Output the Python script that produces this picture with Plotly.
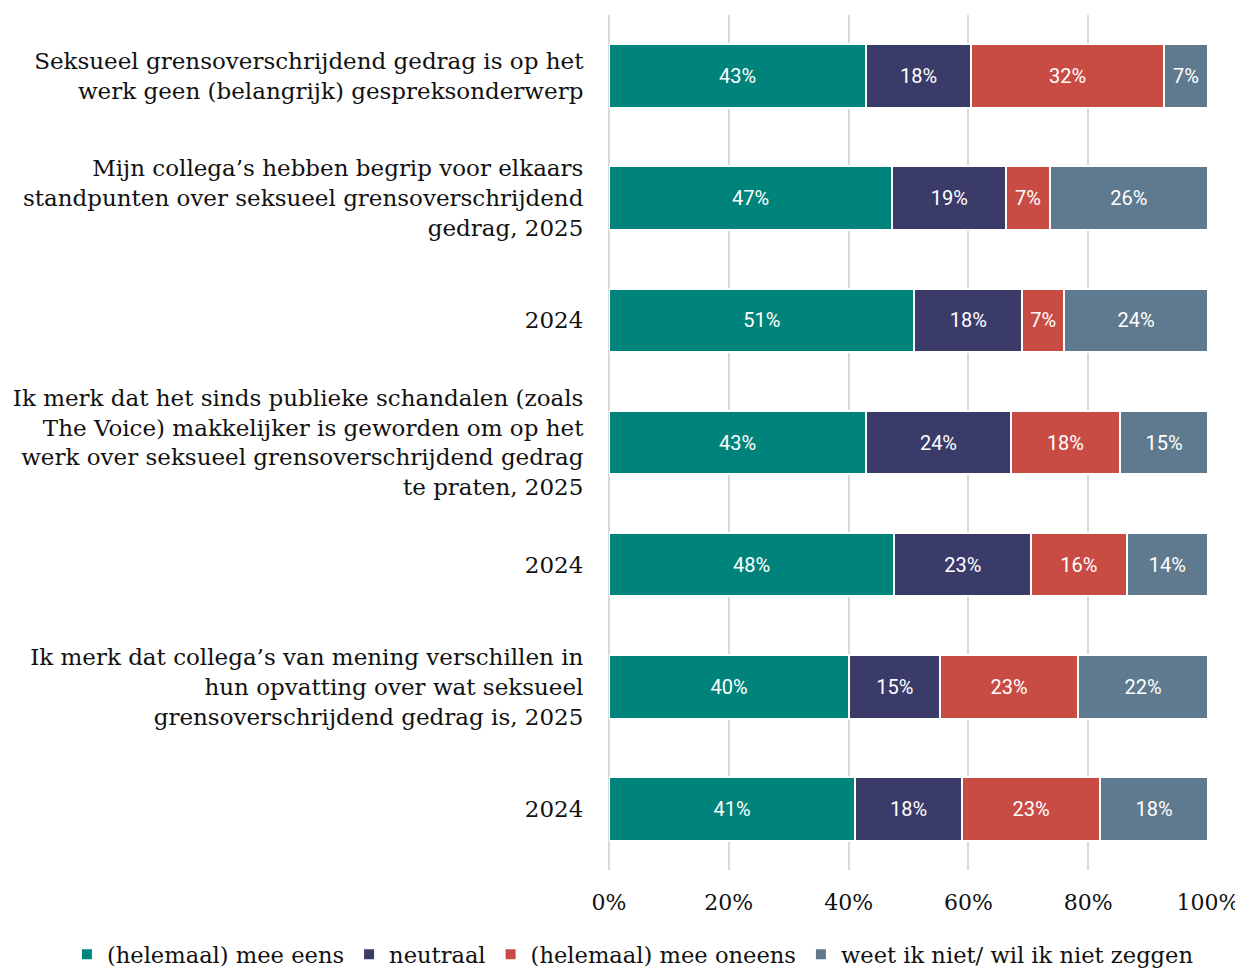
import plotly.graph_objects as go

# Rows, top to bottom
row_ids = ["q1", "q2_2025", "q2_2024", "q3_2025", "q3_2024", "q4_2025", "q4_2024"]
row_labels = [
    "Seksueel grensoverschrijdend gedrag is op het<br>werk geen (belangrijk) gespreksonderwerp",
    "Mijn collega’s hebben begrip voor elkaars<br>standpunten over seksueel grensoverschrijdend<br>gedrag, 2025",
    "2024",
    "Ik merk dat het sinds publieke schandalen (zoals<br>The Voice) makkelijker is geworden om op het<br>werk over seksueel grensoverschrijdend gedrag<br>te praten, 2025",
    "2024",
    "Ik merk dat collega’s van mening verschillen in<br>hun opvatting over wat seksueel<br>grensoverschrijdend gedrag is, 2025",
    "2024",
]

# Shares in %
mee_eens = [42.9, 47.3, 51.0, 42.9, 47.6, 40.1, 41.1]
neutraal = [17.6, 19.0, 18.0, 24.2, 22.9, 15.2, 17.8]
mee_oneens = [32.1, 7.3, 7.0, 18.2, 15.9, 23.0, 23.1]
weet_niet = [7.4, 26.4, 24.0, 14.7, 13.6, 21.7, 18.0]

x_ticks = [0, 20, 40, 60, 80, 100]
x_tick_labels = ["0%", "20%", "40%", "60%", "80%", "100%"]

series = [
    ("(helemaal) mee eens", mee_eens, "#00837a"),
    ("neutraal", neutraal, "#3a3b69"),
    ("(helemaal) mee oneens", mee_oneens, "#c94c44"),
    ("weet ik niet/ wil ik niet zeggen", weet_niet, "#5f7a8e"),
]

SERIF = "DejaVu Serif"

fig = go.Figure()
for name, vals, color in series:
    fig.add_trace(
        go.Bar(
            y=row_ids,
            x=vals,
            name=name,
            orientation="h",
            width=0.52,
            marker=dict(color=color, line=dict(color="white", width=2)),
            texttemplate="%{x:.0f}%",
            textposition="inside",
            insidetextanchor="middle",
            textangle=0,
            insidetextfont=dict(family="Roboto", size=20, color="white"),
            hoverinfo="skip",
        )
    )

# page body has an 8px margin, so the figure is 8px smaller than the window
fig.update_layout(
    barmode="stack",
    width=1235,
    height=961,
    margin=dict(l=601, r=35, t=7, b=99, autoexpand=False),
    plot_bgcolor="white",
    paper_bgcolor="white",
    font=dict(family=SERIF, size=22, color="#111111"),
    uniformtext=dict(minsize=20, mode="show"),
    legend=dict(
        orientation="h",
        x=-0.905,
        xanchor="left",
        y=-0.099,
        yanchor="middle",
        font=dict(family=SERIF, size=22.6),
        itemwidth=30,
        traceorder="normal",
    ),
)

fig.update_xaxes(
    range=[0, 100],
    tickvals=x_ticks,
    ticktext=x_tick_labels,
    showgrid=True,
    gridcolor="#d9d9d9",
    gridwidth=2,
    zeroline=True,
    zerolinecolor="#d9d9d9",
    zerolinewidth=2,
    ticks="outside",
    ticklen=13,
    tickcolor="white",
    tickfont=dict(family=SERIF, size=22),
)

fig.update_yaxes(
    categoryorder="array",
    categoryarray=row_ids,
    tickvals=row_ids,
    ticktext=row_labels,
    autorange="reversed",
    ticks="outside",
    ticklen=20,
    tickcolor="white",
    tickfont=dict(family=SERIF, size=23),
    showgrid=False,
)

fig.write_html("out.html")
